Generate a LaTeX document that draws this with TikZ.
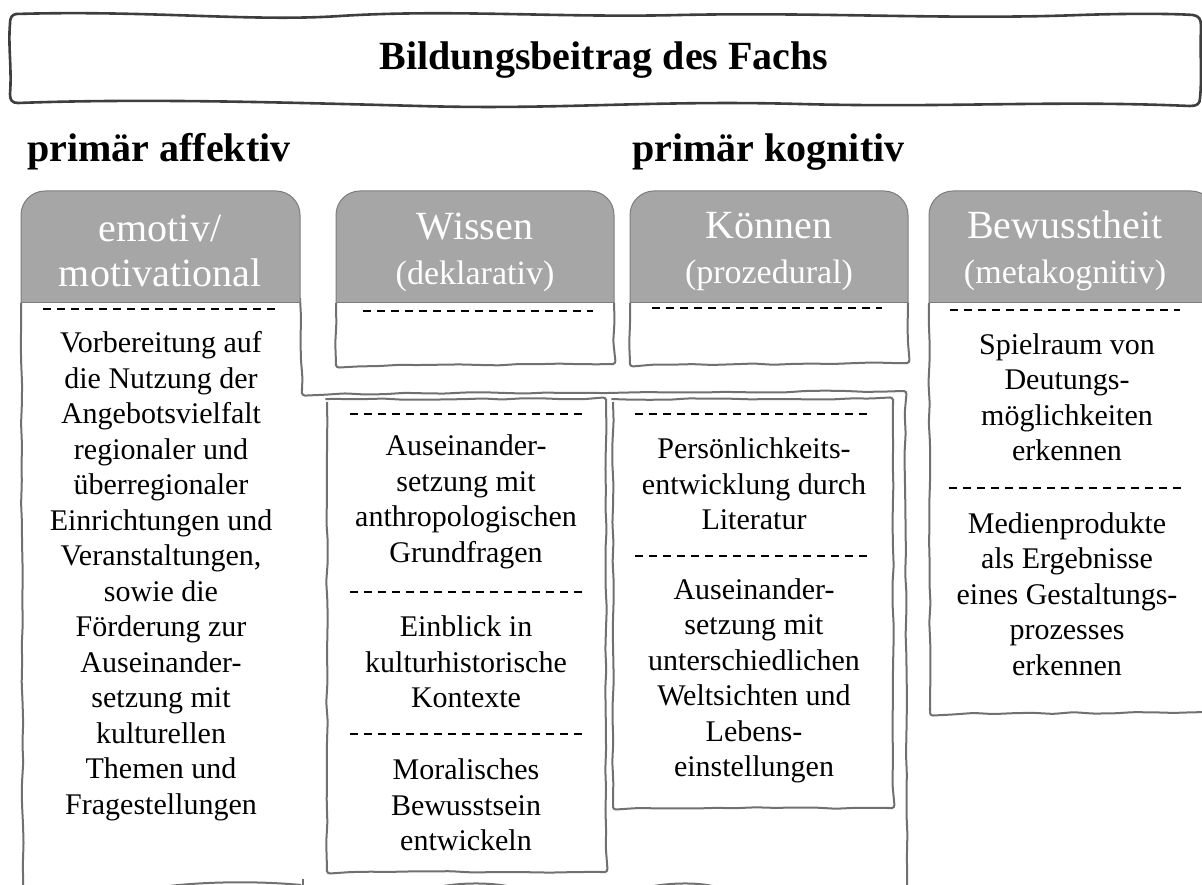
\documentclass[tikz,border=0pt]{standalone}
\usepackage{fontspec}
\setmainfont{Liberation Serif}
\usetikzlibrary{decorations.pathmorphing}

\definecolor{tabgray}{HTML}{A6A6A6}
\definecolor{rimgray}{HTML}{707070}

\newcommand{\bodysize}{\fontsize{30}{35.5}\selectfont}
\newcommand{\tabsize}{\fontsize{40}{45}\selectfont}
\newcommand{\subsize}{\fontsize{34}{40}\selectfont}

\begin{document}
\begin{tikzpicture}[x=1pt, y=-1pt,
    sketch/.style={draw=rimgray, line width=2pt, decorate,
        decoration={random steps, segment length=20pt, amplitude=0.8pt}, rounded corners=3pt},
    tab/.style={fill=tabgray, draw=tabgray!75!black, line width=1pt},
    tabtext/.style={text=white, align=center, font=\tabsize},
    bodytext/.style={align=center, font=\bodysize},
    divider/.style={line width=2.4pt, dash pattern=on 8pt off 6pt}]
    \pgfmathsetseed{7}

    % Frame
    \useasboundingbox (0,0) rectangle (1202,885);
    \clip (0,0) rectangle (1202,885);

    % Title banner
    \draw[rimgray!55!black, line width=2.6pt]
        (16,14) .. controls (150,10) and (250,22) .. (340,16)
        .. controls (450,9) and (560,18) .. (680,15)
        .. controls (820,12) and (950,20) .. (1080,15)
        .. controls (1140,13) and (1180,14) .. (1193,15)
        .. controls (1199,16) and (1201,19) .. (1201,26)
        .. controls (1200,55) and (1202,80) .. (1200,98)
        .. controls (1200,104) and (1197,106) .. (1190,106)
        .. controls (1050,100) and (950,108) .. (800,104)
        .. controls (650,100) and (560,110) .. (420,106)
        .. controls (300,103) and (150,98) .. (18,103)
        .. controls (12,103) and (10,100) .. (10,94)
        .. controls (12,70) and (8,45) .. (10,24)
        .. controls (10,17) and (12,15) .. (16,14) -- cycle;
    \node[font=\fontsize{40}{44}\selectfont\bfseries] (title) at (604,60) {Bildungsbeitrag des Fachs};

    % Group labels
    \node[anchor=base west, inner sep=0pt, font=\fontsize{40}{44}\selectfont\bfseries] (affektiv) at (27,162) {primär affektiv};
    \node[anchor=base west, inner sep=0pt, font=\fontsize{40}{44}\selectfont\bfseries] (kognitiv) at (632,162) {primär kognitiv};

    % Column boxes
    \draw[sketch] (21,303) -- (23,900);
    \draw[sketch] (300,298) -- (302,394) -- (905,391) -- (907,900);
    \draw[sketch] (336,303) -- (336,366) -- (614,364) -- (614,303);
    \draw[sketch] (630,303) -- (630,365) -- (908,363) -- (908,303);
    \draw[sketch] (929,303) -- (930,714) -- (1215,712);
    \draw[sketch] (327,399) rectangle (606,872);
    \draw[sketch] (613,399) rectangle (893,808);

    % Cut-off boxes at the bottom edge
    \draw[rimgray, line width=2pt] (154,888) .. controls (200,881) and (260,881) .. (301,885);
    \draw[rimgray, line width=2pt] (430,889) .. controls (455,882) and (490,882) .. (512,887);
    \draw[rimgray, line width=2pt] (640,889) .. controls (665,882) and (700,882) .. (716,887);
    \draw[rimgray, line width=2pt] (303,879) -- (303,890);

    % Header tabs
    \foreach \xa/\xb in {21/300, 336/614, 630/908, 929/1215} {
        \begin{scope}
            \clip (0,0) rectangle (1202,303);
            \filldraw[tab, rounded corners=24pt] (\xa,191) rectangle (\xb,340);
        \end{scope}
        \draw[tabgray!75!black, line width=1pt] (\xa,303) -- (\xb,303);
    }
    \node[tabtext] (emohead) at (160,251) {emotiv/\\motivational};
    \node[tabtext] (wishead) at (475,252) {Wissen\\{\subsize(deklarativ)}};
    \node[tabtext] (konhead) at (769,252) {Können\\{\subsize(prozedural)}};
    \node[tabtext] (bewhead) at (1065,251) {Bewusstheit\\{\subsize(metakognitiv)}};

    % Dividers
    \draw[divider] (43,309) -- (280,309);
    \draw[divider] (363,311) -- (593,311);
    \draw[divider] (652,308) -- (882,308);
    \draw[divider] (950,310) -- (1180,310);
    \draw[divider] (350,414) -- (585,414);
    \draw[divider] (350,592) -- (585,592);
    \draw[divider] (350,734) -- (585,734);
    \draw[divider] (635,414) -- (871,414);
    \draw[divider] (635,556) -- (871,556);
    \draw[divider] (949,488) -- (1182,488);

    % Texts
    \node[bodytext] (emotext) at (161,576) {Vorbereitung auf\\die Nutzung der\\Angebotsvielfalt\\regionaler und\\überregionaler\\Einrichtungen und\\Veranstaltungen,\\sowie die\\Förderung zur\\Auseinander-\\setzung mit\\kulturellen\\Themen und\\Fragestellungen};
    \node[bodytext] (wisA) at (466,502) {Auseinander-\\setzung mit\\anthropologischen\\Grundfragen};
    \node[bodytext] (wisB) at (466,662) {Einblick in\\kulturhistorische\\Kontexte};
    \node[bodytext] (wisC) at (466,805) {Moralisches\\Bewusstsein\\entwickeln};
    \node[bodytext] (konA) at (754,484) {Persönlichkeits-\\entwicklung durch\\Literatur};
    \node[bodytext] (konB) at (754,681) {Auseinander-\\setzung mit\\unterschiedlichen\\Weltsichten und\\Lebens-\\einstellungen};
    \node[bodytext] (bewA) at (1067,397) {Spielraum von\\Deutungs-\\möglichkeiten\\erkennen};
    \node[bodytext] (bewB) at (1067,594) {Medienprodukte\\als Ergebnisse\\eines Gestaltungs-\\prozesses\\erkennen};
\end{tikzpicture}
\end{document}
